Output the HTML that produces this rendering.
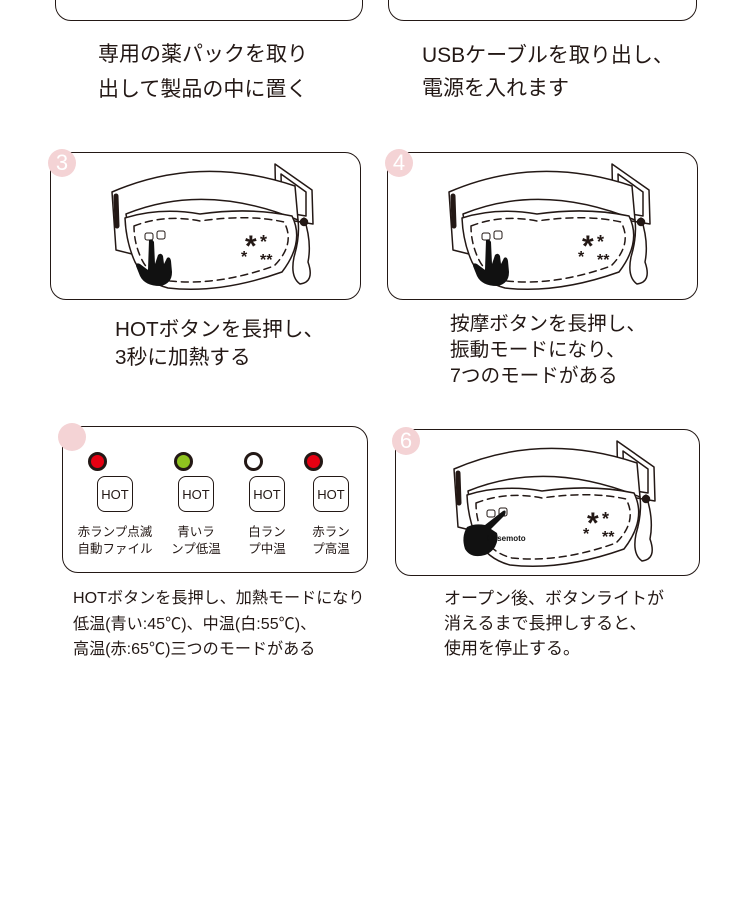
<!DOCTYPE html>
<html><head><meta charset="utf-8"><style>
body{margin:0;width:750px;height:923px;background:#fff;position:relative;overflow:hidden;font-family:"Liberation Sans","Noto Sans CJK JP",sans-serif;color:#231815}
.box{position:absolute;border:1.8px solid #231815;border-radius:16px;box-sizing:border-box}
.num{position:absolute;width:28px;height:28px;border-radius:50%;background:#f4d3d5;color:#fff;font-size:22px;line-height:28px;text-align:center}
.t{position:absolute;white-space:nowrap}
svg{position:absolute}
.hot{position:absolute;width:36px;height:36px;border:1.3px solid #231815;border-radius:8px;font-size:13px;line-height:36px;text-align:center;box-sizing:border-box}
.led{position:absolute;width:13px;height:13px;border-radius:50%;border:3px solid #231815}
.lbl{position:absolute;font-size:12.5px;line-height:17px;text-align:center;width:80px}
</style></head><body>
<svg width="0" height="0" style="position:absolute">
<defs>
<g id="belt" fill="none" stroke="#231815" stroke-width="1.5" stroke-linecap="round" stroke-linejoin="round">
<path d="M225 12 L262 38 L263 72 L226 66 Z" fill="#fff"/>
<path d="M231 22 L256 40 L256 64 L232 60 Z"/>
<path d="M62 40 Q150 2 245 34 L248 68 Q155 30 76 62 L82 102 L66 98 Z" fill="#fff"/>
<path d="M66 44 L67 74" stroke-width="5"/>
<path d="M254 66 Q262 90 258 110 Q265 130 250 132 Q240 125 244 105 Q250 85 248 68"/>
<circle cx="254" cy="70" r="3.5" fill="#231815"/>
<path d="M75 66 Q110 55 150 62 Q200 55 242 64 Q255 90 232 120 Q170 142 118 136 Q95 130 85 110 Q76 90 75 66 Z" fill="#fff"/>
<path d="M84 74 Q115 62 150 69 Q198 62 234 70 Q246 92 224 114 Q168 134 120 129 Q100 124 92 108 Q84 92 84 74 Z" stroke-dasharray="7 5"/>
<rect x="95" y="81" width="8" height="7" rx="2" stroke-width="1"/>
<rect x="107" y="79" width="8" height="8" rx="2" stroke-width="1"/>
<text x="195" y="104" font-size="30" font-weight="bold" fill="#231815" stroke="none" font-family="Liberation Sans">*</text>
<text x="210" y="96" font-size="18" font-weight="bold" fill="#231815" stroke="none" font-family="Liberation Sans">*</text>
<text x="191" y="110" font-size="16" font-weight="bold" fill="#231815" stroke="none" font-family="Liberation Sans">*</text>
<text x="210" y="113" font-size="16" font-weight="bold" fill="#231815" stroke="none" font-family="Liberation Sans">**</text>
</g>
<g id="hand" fill="#111" stroke="none">
<path d="M99 88 Q102 86 104 90 L105 112 L108 103 Q111 100 113 104 L114 112 L117 106 Q120 104 121 109 L122 120 Q122 132 110 134 Q95 134 90 124 L86 114 Q86 110 90 112 L98 118 Z"/>
</g>
</defs></svg>

<div class="box" style="left:55px;top:-30px;width:308px;height:51px"></div>
<div class="box" style="left:388px;top:-30px;width:309px;height:51px"></div>
<div class="t" style="left:98px;top:37px;font-size:21px;line-height:35px">専用の薬パックを取り<br>出して製品の中に置く</div>
<div class="t" style="left:422px;top:39px;font-size:21px;line-height:33px">USBケーブルを取り出し、<br>電源を入れます</div>

<div class="box" style="left:50px;top:152px;width:311px;height:148px"></div>
<svg style="left:50px;top:152px" width="311" height="148"><use href="#belt"/><use href="#hand"/></svg>
<div class="num" style="left:48px;top:149px">3</div>
<div class="box" style="left:387px;top:152px;width:311px;height:148px"></div>
<svg style="left:387px;top:152px" width="311" height="148"><use href="#belt"/><use href="#hand"/></svg>
<div class="num" style="left:385px;top:149px">4</div>
<div class="t" style="left:115px;top:316px;font-size:20.7px;line-height:28px">HOTボタンを長押し、<br>3秒に加熱する</div>
<div class="t" style="left:450px;top:311px;font-size:19.6px;line-height:26px">按摩ボタンを長押し、<br>振動モードになり、<br>7つのモードがある</div>

<div class="box" style="left:62px;top:426px;width:306px;height:147px"></div>
<div class="num" style="left:58px;top:423px"></div>
<div class="led" style="left:88px;top:452px;background:#e60012"></div>
<div class="led" style="left:174px;top:452px;background:#8fc31f"></div>
<div class="led" style="left:244px;top:452px;background:#fff"></div>
<div class="led" style="left:304px;top:452px;background:#e60012"></div>
<div class="hot" style="left:97px;top:476px">HOT</div>
<div class="hot" style="left:178px;top:476px">HOT</div>
<div class="hot" style="left:249px;top:476px">HOT</div>
<div class="hot" style="left:313px;top:476px">HOT</div>
<div class="lbl" style="left:75px;top:524px">赤ランプ点滅<br>自動ファイル</div>
<div class="lbl" style="left:156px;top:524px">青いラ<br>ンプ低温</div>
<div class="lbl" style="left:227px;top:524px">白ラン<br>プ中温</div>
<div class="lbl" style="left:291px;top:524px">赤ラン<br>プ高温</div>

<div class="box" style="left:395px;top:429px;width:305px;height:147px"></div>
<svg style="left:395px;top:429px" width="305" height="147"><g transform="translate(-3,0)"><use href="#belt"/></g>
<path fill="#111" d="M108 82 Q112 80 110 86 L96 100 L102 104 Q104 110 100 118 Q96 124 90 126 Q76 130 70 120 Q66 108 72 98 Q80 94 90 96 Z"/>
<text x="92" y="112" font-size="8" font-weight="bold" fill="#111" font-family="Liberation Sans">Hasemoto</text></svg>
<div class="num" style="left:392px;top:427px">6</div>

<div class="t" style="left:73px;top:586px;font-size:16.1px;line-height:25.5px">HOTボタンを長押し、加熱モードになり<br>低温(青い:45℃)、中温(白:55℃)、<br>高温(赤:65℃)三つのモードがある</div>
<div class="t" style="left:444px;top:586px;font-size:17px;line-height:25px">オープン後、ボタンライトが<br>消えるまで長押しすると、<br>使用を停止する。</div>
</body></html>
